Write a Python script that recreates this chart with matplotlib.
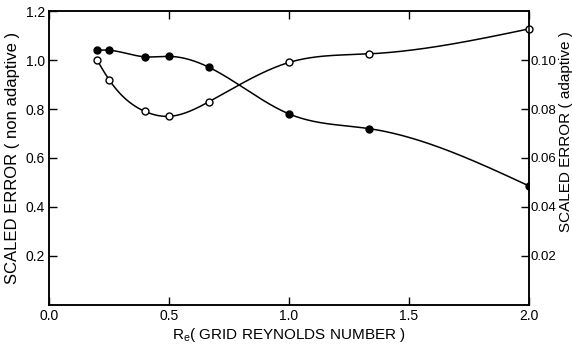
import numpy as np
import matplotlib
matplotlib.use("Agg")
import matplotlib.pyplot as plt

plt.rcParams["font.family"] = ["Liberation Sans", "DejaVu Sans"]

# grid Reynolds number
re_grid = [0.2, 0.25, 0.4, 0.5, 0.667, 1.0, 1.333, 2.0]
# scaled error, non adaptive (left axis, filled)
err_nonadaptive = [1.04, 1.04, 1.013, 1.015, 0.97, 0.78, 0.72, 0.486]
# scaled error, adaptive (right axis, open)
err_adaptive = [0.100, 0.092, 0.079, 0.077, 0.083, 0.099, 0.1025, 0.1127]

left_ticks = [0.2, 0.4, 0.6, 0.8, 1.0, 1.2]
right_ticks = [0.02, 0.04, 0.06, 0.08, 0.10]
x_ticks = [0.0, 0.5, 1.0, 1.5, 2.0]


def smooth(x, y, n=300):
    # natural cubic spline through the points, only for drawing the curve
    x = np.asarray(x, float)
    y = np.asarray(y, float)
    k = len(x)
    h = np.diff(x)
    A = np.zeros((k, k))
    b = np.zeros(k)
    A[0, 0] = A[-1, -1] = 1
    for i in range(1, k - 1):
        A[i, i - 1] = h[i - 1]
        A[i, i] = 2 * (h[i - 1] + h[i])
        A[i, i + 1] = h[i]
        b[i] = 6 * ((y[i + 1] - y[i]) / h[i] - (y[i] - y[i - 1]) / h[i - 1])
    m = np.linalg.solve(A, b)
    xs = np.linspace(x[0], x[-1], n)
    j = np.clip(np.searchsorted(x, xs) - 1, 0, k - 2)
    t0 = x[j + 1] - xs
    t1 = xs - x[j]
    hj = h[j]
    ys = (m[j] * t0**3 + m[j + 1] * t1**3) / (6 * hj) \
        + (y[j] / hj - m[j] * hj / 6) * t0 + (y[j + 1] / hj - m[j + 1] * hj / 6) * t1
    return xs, ys


fig = plt.figure(figsize=(5.72, 3.44), dpi=100)
ax = fig.add_axes([0.0857, 0.1134, 0.8391, 0.8546])
ax2 = ax.twinx()

xs, ys = smooth(re_grid, err_nonadaptive)
ax.plot(xs, ys, color="black", lw=1.1)
ax.plot(re_grid, err_nonadaptive, "o", color="black", ms=5)

xs, ys = smooth(re_grid, err_adaptive)
ax2.plot(xs, ys, color="black", lw=1.1)
ax2.plot(re_grid, err_adaptive, "o", mfc="white", mec="black", mew=1.0, ms=5, clip_on=False)

ax.set_xlim(0, 2.0)
ax.set_ylim(0, 1.2)
ax2.set_ylim(0, 0.12)
ax.set_xticks(x_ticks)
ax.set_xticklabels([f"{v:.1f}" for v in x_ticks])
ax.set_yticks(left_ticks)
ax.set_yticklabels([f"{v:.1f}" for v in left_ticks])
ax2.set_yticks(right_ticks)
ax2.set_yticklabels([f"{v:.2f}" for v in right_ticks])

ax.tick_params(direction="in", length=6, width=1, labelsize=10, top=True, pad=3)
ax2.tick_params(direction="in", length=6, width=1, labelsize=9.5, pad=1)
for a in (ax, ax2):
    for s in a.spines.values():
        s.set_linewidth(1.1)

ax.set_xlabel(r"R$_\mathregular{e}$( GRID REYNOLDS NUMBER )", fontsize=11, labelpad=2)
ax.set_ylabel("SCALED ERROR ( non adaptive )", fontsize=12, labelpad=4)
fig.text(0.9895, (344 - 232) / 344, "SCALED ERROR ( adaptive )", rotation=90, fontsize=11,
         ha="center", va="bottom")

fig.savefig("out.png", dpi=100)
